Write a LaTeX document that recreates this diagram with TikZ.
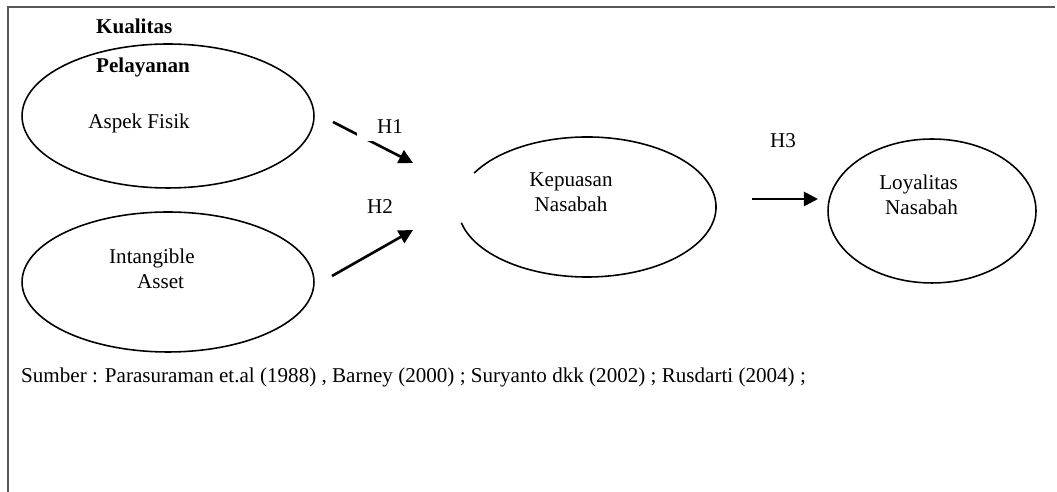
\documentclass[tikz,border=0pt]{standalone}
\usepackage{fontspec}
\setmainfont{Liberation Serif}
\usetikzlibrary{arrows.meta}
\usetikzlibrary{shapes.geometric}

\begin{document}
\begin{tikzpicture}[x=0.02cm, y=0.02cm,
    font=\fontsize{12}{14}\selectfont,
    oval/.style={draw, ellipse, line width=0.9pt, inner sep=0pt},
    hyp/.style={line width=1.5pt, -{Triangle[length=8pt,width=8pt]}}]

        \useasboundingbox (0,0) rectangle (1057,492);
        \draw[black!65, line width=1pt] (8,0) -- (8,485) -- (1055,485);

        % variabel
        \node [oval, minimum width=5.84cm, minimum height=2.88cm] (fisik) at (168,376) {};
        \node [oval, minimum width=5.84cm, minimum height=2.80cm] (asset) at (168,210) {};
        \node [ellipse, inner sep=0pt, minimum width=5.16cm, minimum height=2.80cm] (puas) at (587,285) {};
        \node [oval, minimum width=4.16cm, minimum height=2.88cm] (loyal) at (932,281) {};
        \draw[line width=0.9pt] (puas.center) ++(-167:129 and 70)
              arc[start angle=-167, end angle=151, x radius=129, y radius=70];

        \node [anchor=west, align=left, font=\fontsize{12}{14}\selectfont\bfseries] (kualitas) at (90,444) {Kualitas\\[8.5pt]Pelayanan};
        \node (fisiktxt) at (139,369) {Aspek Fisik};
        \node [anchor=west, align=left] (assettxt) at (103,223) {Intangible\\\hspace{0.56cm}Asset};
        \node [align=center] (puastxt) at (571,300) {Kepuasan\\Nasabah};
        \node [anchor=east, align=right] (loyaltxt) at (964,297) {Loyalitas\\Nasabah};

        % hipotesis
        \coordinate (h1a) at (333,370);
        \coordinate (h1b) at (413,329);
        \coordinate (h2a) at (332,216);
        \coordinate (h2b) at (413,262);
        \coordinate (h3a) at (752,293);
        \coordinate (h3b) at (818,293);
        \draw[hyp] (h1a) -- (h1b);
        \draw[hyp] (h2a) -- (h2b);
        \draw[hyp] (h3a) -- (h3b);
        \node [fill=white, inner xsep=0.4cm, inner ysep=0.14cm] (h1) at (390,365) {H1};
        \node (h2) at (380,285) {H2};
        \node (h3) at (783,351) {H3};

        \node [anchor=west] (sumber) at (15,115) {Sumber : Parasuraman et.al (1988) , Barney (2000) ; Suryanto dkk (2002) ; Rusdarti (2004) ;};

\end{tikzpicture}
\end{document}
